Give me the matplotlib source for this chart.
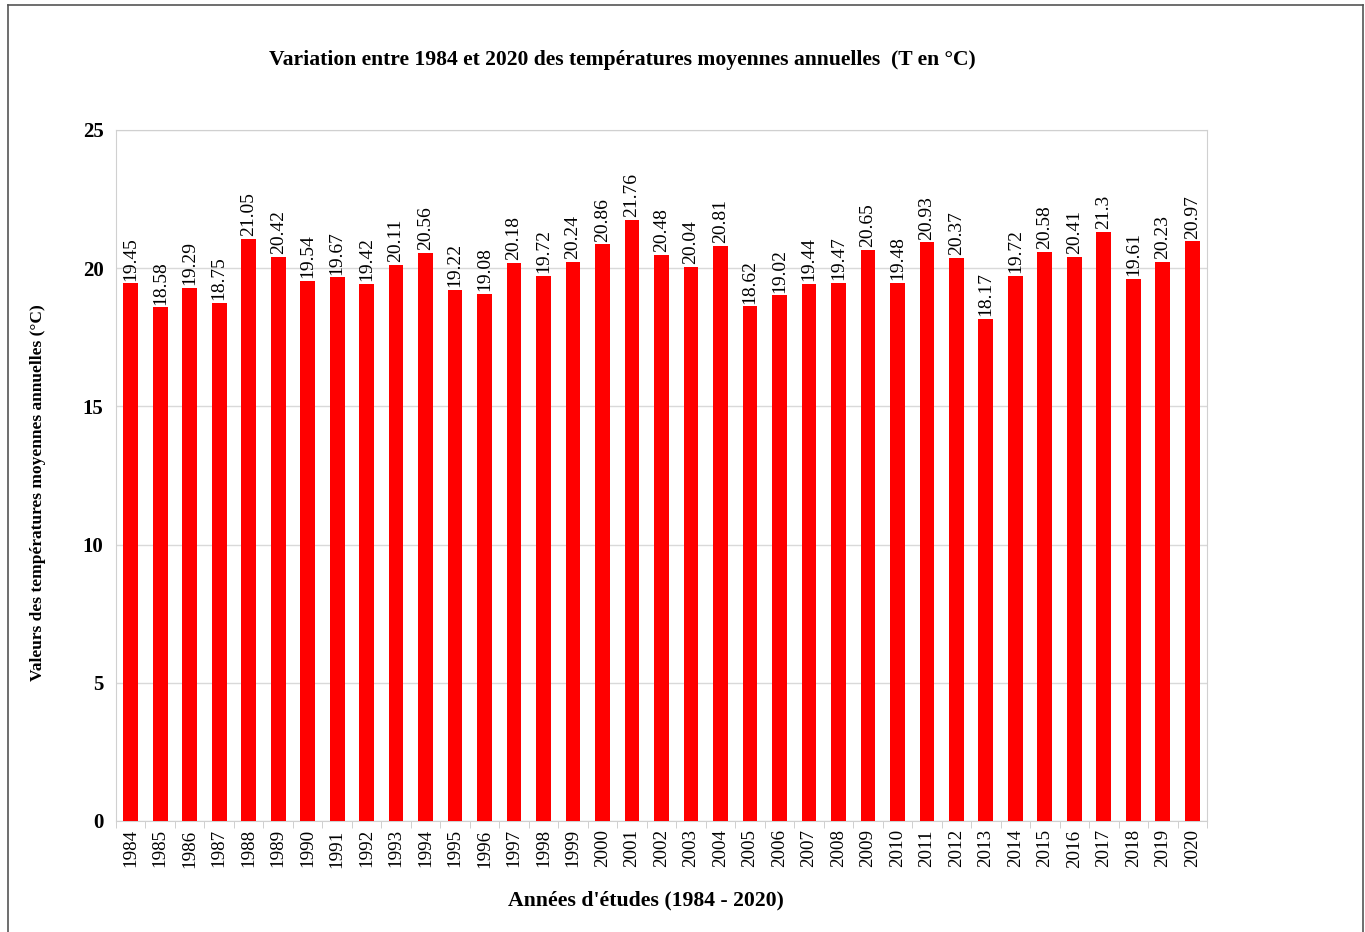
import matplotlib
matplotlib.use('Agg')
import matplotlib.pyplot as plt
from matplotlib.lines import Line2D

plt.rcParams['font.family'] = ['Liberation Serif', 'DejaVu Serif']

# données / data
annees = list(range(1984, 2021))
temperatures = [19.45, 18.58, 19.29, 18.75, 21.05, 20.42, 19.54, 19.67, 19.42, 20.11,
                20.56, 19.22, 19.08, 20.18, 19.72, 20.24, 20.86, 21.76, 20.48, 20.04,
                20.81, 18.62, 19.02, 19.44, 19.47, 20.65, 19.48, 20.93, 20.37, 18.17,
                19.72, 20.58, 20.41, 21.3, 19.61, 20.23, 20.97]
yticks = [0, 5, 10, 15, 20, 25]

W, H = 1365, 932
fig = plt.figure(figsize=(W / 100, H / 100), dpi=100)
ax = fig.add_axes([116 / W, 1 - 821 / H, (1207 - 116) / W, (821 - 130) / H])

x = list(range(len(annees)))
bars = ax.bar(x, temperatures, width=0.5, color='#ff0000', zorder=3)
for xi, v in zip(x, temperatures):
    ax.annotate(f'{v:g}', (xi, v), xytext=(0, 2), textcoords='offset points',
                rotation=90, ha='center', va='bottom', fontsize=14)

ax.set_xlim(-0.5, len(annees) - 0.5)
ax.set_ylim(0, 25)
ax.set_yticks(yticks)
ax.set_yticklabels([str(t) for t in yticks], fontsize=15, fontweight='bold')
ax.tick_params(axis='y', length=0, pad=9)
ax.set_xticks(x)
ax.set_xticklabels([str(a) for a in annees], rotation=90, fontsize=13.7)
ax.tick_params(axis='x', which='major', length=0, pad=6)
ax.set_xticks([i - 0.5 for i in range(len(annees) + 1)], minor=True)
ax.tick_params(axis='x', which='minor', length=5, color='#c8c8c8')
ax.grid(axis='y', color='#d9d9d9', linewidth=1, zorder=0)
for s in ax.spines.values():
    s.set_color('#d0d0d0')

fig.text(622 / W, 1 - 60 / H,
         'Variation entre 1984 et 2020 des températures moyennes annuelles  (T en °C)',
         ha='center', va='center', fontsize=15.6, fontweight='bold')
fig.text(646 / W, 1 - 900 / H, "Années d'études (1984 - 2020)",
         ha='center', va='center', fontsize=15.7, fontweight='bold')
fig.text(38 / W, 1 - 493 / H, 'Valeurs des températures moyennes annuelles (°C)',
         ha='center', va='center', rotation=90, fontsize=12.5, fontweight='bold')

# cadre extérieur
for xs, ys in [([8, 8], [5, 932]), ([8, 1363], [5, 5]), ([1363, 1363], [5, 932])]:
    fig.add_artist(Line2D([v / W for v in xs], [1 - v / H for v in ys],
                          transform=fig.transFigure, color='#555555', linewidth=1.2))

fig.savefig('out.png', dpi=100)
